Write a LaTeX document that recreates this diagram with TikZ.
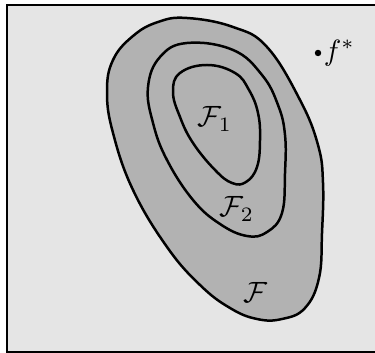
\documentclass[tikz,border=0pt]{standalone}
\usepackage{amsmath,amssymb}
\usetikzlibrary{calc}

\tikzset{
  level/.style={line width=0.85pt, smooth cycle, tension=0.7},
}

\begin{document}
\begin{tikzpicture}[x=0.012cm, y=-0.012cm]
    \useasboundingbox (0,0) rectangle (375,353);
    \fill[black!10] (7,5) rectangle (390,352);
    \draw[line width=0.7pt] (7,5) rectangle (390,352);

    % the set F
    \draw[level, fill=black!30] plot coordinates {
      (187,18) (233,27) (267,47) (300,100) (318,145) (323,183)
      (322,233) (319,278) (305,308) (282,319) (257,319) (230,308)
      (200,285) (167,247) (133,190) (113,133) (107,92) (113,60) (133,36) (158,22)};
    % the level sets F_2 and F_1
    \draw[level] plot coordinates {
      (187,43) (233,50) (262,75) (278,105) (285,135) (285,173)
      (282,213) (267,232) (247,236) (220,224) (193,200) (167,160)
      (153,123) (148,87) (160,57)};
    \draw[level] plot coordinates {
      (207,65) (235,73) (249,90) (258,113) (260,140) (257,167)
      (246,182) (232,183) (215,170) (193,143) (180,117) (173,92) (180,73)};

    \node (f1) at (215,119) {$\mathcal{F}_1$};
    \node (f2) at (237,209) {$\mathcal{F}_2$};
    \node (f) at (255,292) {$\mathcal{F}$};

    \fill (318,53) circle (1.1pt) coordinate (fstar);
    \node[right=-1.5pt] (fstarlabel) at (fstar) {$f^*$};
\end{tikzpicture}
\end{document}
